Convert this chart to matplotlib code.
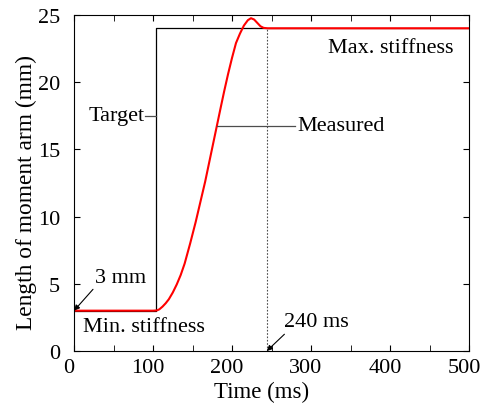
import numpy as np
import matplotlib.pyplot as plt
import matplotlib.transforms as mtransforms
from matplotlib.ticker import MultipleLocator

plt.rcParams['font.family'] = ['Liberation Serif', 'DejaVu Serif']
plt.rcParams['font.size'] = 16

# target (commanded) moment arm
target_t = [0, 104, 104, 500]
target_len = [3, 3, 24, 24]

# measured moment arm
meas_t = [0, 100, 105, 108, 112, 116, 120, 125, 130, 135, 140, 147, 154, 160,
          166, 171, 176, 181, 186, 190, 195, 200, 205, 210, 215, 220, 224, 228,
          232, 236, 240, 245, 500]
meas_len = [3, 3, 3.02, 3.1, 3.3, 3.55, 3.85, 4.35, 4.95, 5.65, 6.5, 8.0, 9.6,
            11.1, 12.6, 14.0, 15.4, 16.8, 18.2, 19.3, 20.6, 21.8, 22.9, 23.6,
            24.2, 24.6, 24.75, 24.65, 24.4, 24.15, 24.03, 24.0, 24.0]

settle_t = 244

fig = plt.figure(figsize=(4.84, 4.06), dpi=100)
ax = fig.add_axes([0.153, 0.133, 0.816, 0.828])

ax.plot(target_t, target_len, color='black', lw=0.9)
ax.plot([settle_t, settle_t], [0, 24], color='0.3', lw=0.8, ls=(0, (1.5, 1.5)))
ax.plot(meas_t, meas_len, color='red', lw=1.5)

ax.set_xlim(0, 500)
ax.set_ylim(0, 25)
ax.xaxis.set_major_locator(MultipleLocator(100))
ax.xaxis.set_minor_locator(MultipleLocator(50))
ax.yaxis.set_major_locator(MultipleLocator(5))
ax.tick_params(which='both', direction='in', top=True, right=True, length=4)
ax.tick_params(axis='x', pad=5)
ax.tick_params(axis='y', pad=10)

# x tick labels sit a little left of their ticks in the original
shift = mtransforms.ScaledTranslation(-5 / 100, 0, fig.dpi_scale_trans)
for lab in ax.get_xticklabels():
    lab.set_transform(lab.get_transform() + shift)

ax.set_xlabel('Time (ms)', fontsize=16.5)
ax.xaxis.set_label_coords(0.475, -0.09)
ax.set_ylabel('Length of moment arm (mm)', fontsize=16.8)
ax.yaxis.set_label_coords(-0.095, 0.473)

# annotations
ax.annotate('3 mm', xy=(0, 3), xytext=(26, 5.5), va='center', ha='left',
            arrowprops=dict(arrowstyle='-|>', color='black', lw=0.8,
                            mutation_scale=8, shrinkA=0, shrinkB=0,
                            relpos=(0.05, 0.1)))
ax.text(11, 1.8, 'Min. stiffness', va='center', ha='left')
ax.text(481, 22.6, 'Max. stiffness', va='center', ha='right')
ax.text(90, 17.5, 'Target', va='center', ha='right')
ax.plot([90, 104], [17.5, 17.5], color='0.3', lw=0.9)
ax.text(283, 16.75, 'Measured', va='center', ha='left')
ax.plot([181, 280], [16.75, 16.75], color='0.3', lw=0.9)
ax.annotate('240 ms', xy=(settle_t, 0), xytext=(266, 2.16), va='center', ha='left',
            arrowprops=dict(arrowstyle='-|>', color='black', lw=0.8,
                            mutation_scale=8, shrinkA=0, shrinkB=0,
                            relpos=(0.08, 0.1)))

fig.savefig('out.png', dpi=100)
